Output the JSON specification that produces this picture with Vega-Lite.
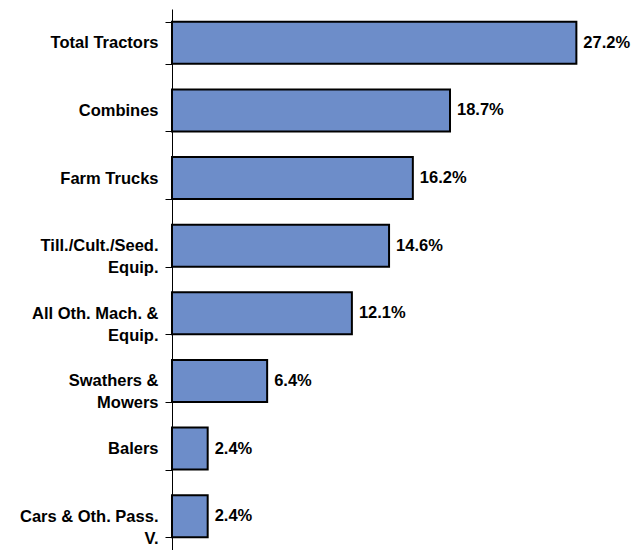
{
  "$schema": "https://vega.github.io/schema/vega-lite/v6.json",
  "autosize": "none",
  "padding": {"left": 172, "top": 9, "right": 21, "bottom": 0},
  "width": 446,
  "height": 541,
  "background": "white",
  "config": {"view": {"stroke": null}, "font": "Liberation Sans"},
  "data": {
    "values": [
      {"category": "Total Tractors", "share": 0.272},
      {"category": "Combines", "share": 0.187},
      {"category": "Farm Trucks", "share": 0.162},
      {"category": "Till./Cult./Seed.|Equip.", "share": 0.146},
      {"category": "All Oth. Mach. &|Equip.", "share": 0.121},
      {"category": "Swathers &|Mowers", "share": 0.064},
      {"category": "Balers", "share": 0.024},
      {"category": "Cars & Oth. Pass.|V.", "share": 0.024}
    ]
  },
  "encoding": {
    "y": {
      "field": "category",
      "type": "nominal",
      "sort": null,
      "scale": {"paddingInner": 0.38, "paddingOuter": 0.19},
      "axis": {
        "title": null,
        "labelExpr": "datum.value ? split(datum.value, '|') : ''",
        "labelFont": "Liberation Sans",
        "labelFontSize": 16.5,
        "labelFontWeight": "bold",
        "labelColor": "#000000",
        "labelLineHeight": 22,
        "labelPadding": 7,
        "tickSize": 7,
        "tickColor": "#000000",
        "tickBand": "extent",
        "domainColor": "#000000",
        "labelLimit": 200
      }
    },
    "x": {
      "field": "share",
      "type": "quantitative",
      "scale": {"domain": [0, 0.3], "nice": false},
      "axis": null
    }
  },
  "layer": [
    {
      "mark": {"type": "bar", "fill": "#6d8dc9", "stroke": "#000000", "strokeWidth": 2}
    },
    {
      "mark": {"type": "text", "align": "left", "baseline": "middle", "dx": 7, "font": "Liberation Sans", "fontSize": 16.5, "fontWeight": "bold", "color": "#000000"},
      "encoding": {
        "text": {"field": "share", "type": "quantitative", "format": ".1%"}
      }
    }
  ]
}
